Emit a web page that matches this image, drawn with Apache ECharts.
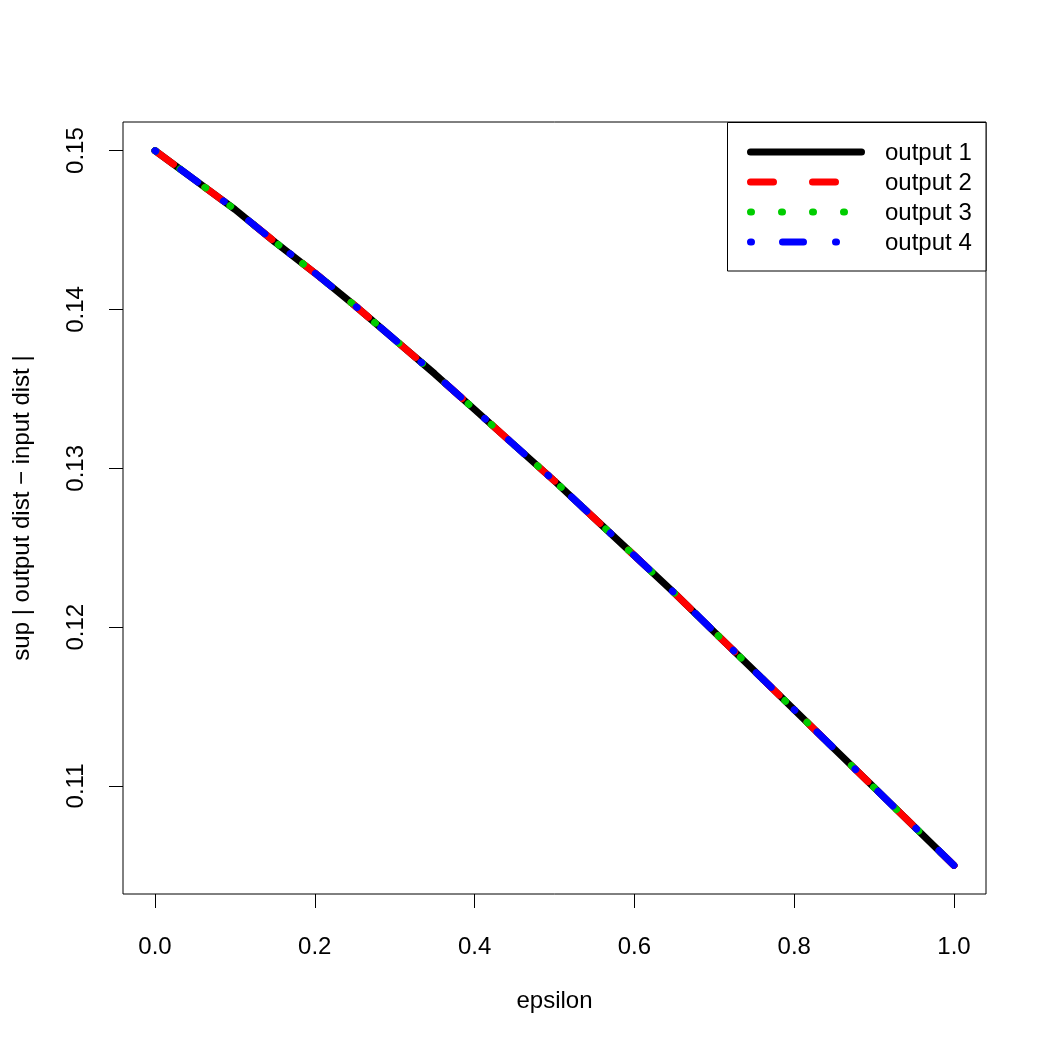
<!DOCTYPE html>
<html>
<head>
<meta charset="utf-8">
<script src="https://cdn.jsdelivr.net/npm/echarts@6/dist/echarts.min.js"></script>
<style>
html,body{margin:0;padding:0;background:#fff;}
#chart{width:1048px;height:1048px;}
</style>
</head>
<body>
<div id="chart"></div>
<script>
// epsilon values (x)
const epsilon = [0.00,0.05,0.10,0.15,0.20,0.25,0.30,0.35,0.40,0.45,0.50,0.55,0.60,0.65,0.70,0.75,0.80,0.85,0.90,0.95,1.00];
// sup | output dist - input dist | for each output (all four coincide in the picture)
const output1 = [0.15000,0.14815,0.14630,0.14425,0.14230,0.14025,0.13810,0.13595,0.13370,0.13145,0.12920,0.12685,0.12450,0.12215,0.11970,0.11725,0.11480,0.11235,0.10990,0.10745,0.10500];
const output2 = [0.15000,0.14815,0.14630,0.14425,0.14230,0.14025,0.13810,0.13595,0.13370,0.13145,0.12920,0.12685,0.12450,0.12215,0.11970,0.11725,0.11480,0.11235,0.10990,0.10745,0.10500];
const output3 = [0.15000,0.14815,0.14630,0.14425,0.14230,0.14025,0.13810,0.13595,0.13370,0.13145,0.12920,0.12685,0.12450,0.12215,0.11970,0.11725,0.11480,0.11235,0.10990,0.10745,0.10500];
const output4 = [0.15000,0.14815,0.14630,0.14425,0.14230,0.14025,0.13810,0.13595,0.13370,0.13145,0.12920,0.12685,0.12450,0.12215,0.11970,0.11725,0.11480,0.11235,0.10990,0.10745,0.10500];
const seriesNames = ['output 1','output 2','output 3','output 4'];
const xTicks = [0.0,0.2,0.4,0.6,0.8,1.0];
const yTicks = [0.11,0.12,0.13,0.14,0.15];

const FONT = 'Liberation Sans, Arial, Helvetica, sans-serif';
const FS = 24;
const LW = 7;
const colors = ['#000000','#FF0000','#00CD00','#0000FF'];
const dashes = ['solid',[23,39],[1,30],[1,31,21,32]];
const allData = [output1,output2,output3,output4];

const series = allData.map((vals,i)=>({
  name: seriesNames[i],
  type:'line',
  data: epsilon.map((x,j)=>[x, vals[j]]),
  showSymbol:false,
  symbol:'none',
  smooth:false,
  z: 2+i,
  lineStyle:{color:colors[i], width:LW, type:dashes[i], cap:'round', join:'round'}
}));

// legend (drawn as graphics)
const legX0 = 727.5, legY0 = 122.5, legW = 258.5, legH = 148.5;
const rowY = [152,182,212,242];
const graphics = [{
  type:'rect', shape:{x:legX0,y:legY0,width:legW,height:legH},
  style:{fill:'#fff',stroke:'#000',lineWidth:1}, z:100
}];
seriesNames.forEach((nm,i)=>{
  graphics.push({
    type:'line', shape:{x1:750.5,y1:rowY[i],x2:861.5,y2:rowY[i]},
    style:{stroke:colors[i],lineWidth:LW,lineCap:'round',lineDash: dashes[i]==='solid'?null:dashes[i]}, z:101
  });
  graphics.push({
    type:'text', x:885, y:rowY[i]+1,
    style:{text:nm, font:FS+'px '+FONT, fill:'#000', textAlign:'left', textVerticalAlign:'middle'}, z:101
  });
});

const chart = echarts.init(document.getElementById('chart'), null, {renderer:'canvas'});
chart.setOption({
  animation:false,
  backgroundColor:'#fff',
  grid:{left:123,right:62,top:122,bottom:154,show:true,borderColor:'#000',borderWidth:1,backgroundColor:'transparent'},
  xAxis:{
    type:'value', min:-0.04, max:1.04,
    name:'epsilon', nameLocation:'middle', nameGap:95,
    nameTextStyle:{fontFamily:FONT,fontSize:FS,color:'#000'},
    axisLine:{show:false,onZero:false},
    splitLine:{show:false},
    axisTick:{show:true,inside:false,length:14,lineStyle:{color:'#000',width:1},customValues:xTicks},
    axisLabel:{show:true,margin:41,fontFamily:FONT,fontSize:FS,color:'#000',customValues:xTicks,
      formatter:v=>v.toFixed(1)}
  },
  yAxis:{
    type:'value', min:0.1032, max:0.1518,
    name:'sup | output dist \u2212 input dist |', nameLocation:'middle', nameGap:89, nameRotate:90,
    nameTextStyle:{fontFamily:FONT,fontSize:FS,color:'#000'},
    axisLine:{show:false,onZero:false},
    splitLine:{show:false},
    axisTick:{show:true,inside:false,length:14,lineStyle:{color:'#000',width:1},customValues:yTicks},
    axisLabel:{show:true,rotate:90,margin:35,fontFamily:FONT,fontSize:FS,color:'#000',customValues:yTicks,
      formatter:v=>v.toFixed(2)}
  },
  series: series,
  graphic: graphics
});
</script>
</body>
</html>
